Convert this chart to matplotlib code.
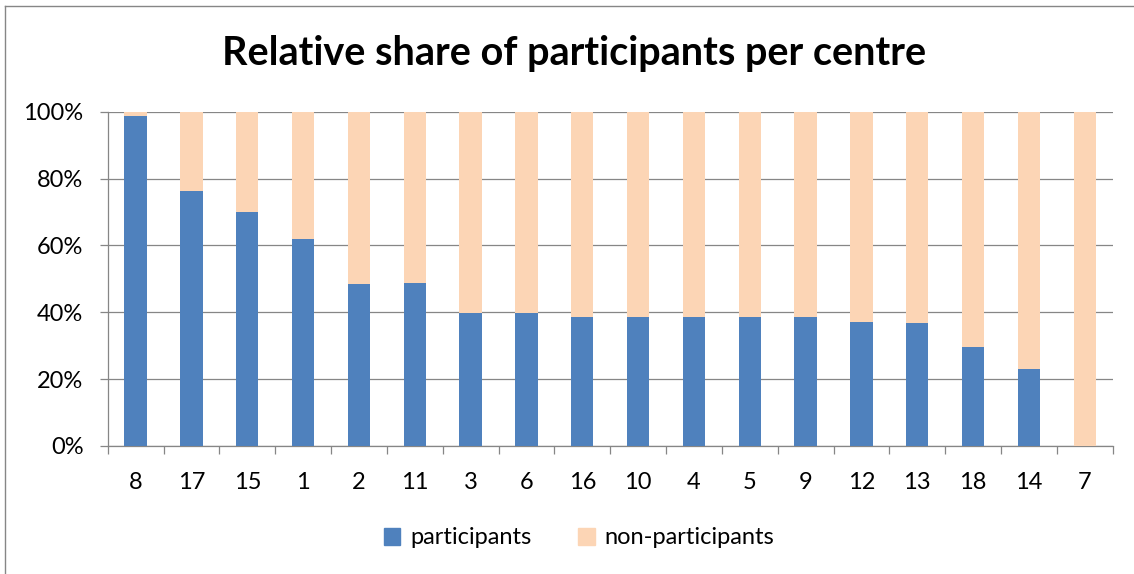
import numpy as np
import matplotlib.pyplot as plt
from matplotlib.patches import Patch
from matplotlib.ticker import PercentFormatter

# centres ordered by participant share
centres = ['8', '17', '15', '1', '2', '11', '3', '6', '16', '10', '4', '5',
           '9', '12', '13', '18', '14', '7']
participants = [98.8, 76.3, 69.9, 62.0, 48.6, 48.8, 39.9, 39.9, 38.5, 38.6,
                38.6, 38.6, 38.6, 37.1, 36.7, 29.6, 23.0, 0.0]
non_participants = [100 - p for p in participants]

blue = '#4F81BD'
peach = '#FCD5B5'
grey = '#868686'

plt.rcParams['font.family'] = ['Lato', 'DejaVu Sans']

fig = plt.figure(figsize=(11.34, 5.74), dpi=100)
W, H = 1134., 574.
ax = fig.add_axes([107.7/W, 1-446/H, (1112.7-107.7)/W, (446-111.7)/H])

x = np.arange(len(centres))
ax.bar(x, participants, width=0.4, color=blue, zorder=3)
ax.bar(x, non_participants, width=0.4, bottom=participants, color=peach, zorder=3)

ax.set_xlim(-0.5, len(centres) - 0.5)
ax.set_ylim(0, 100)
ax.set_yticks(np.arange(0, 101, 20))
ax.yaxis.set_major_formatter(PercentFormatter(decimals=0))
ax.set_xticks(x)
ax.set_xticklabels(centres)
ax.set_xticks(np.arange(-0.5, len(centres)), minor=True)
ax.tick_params(axis='x', which='major', length=0, pad=19, labelsize=17)
ax.tick_params(axis='x', which='minor', length=5.5, width=0.9, color=grey, direction='out')
ax.tick_params(axis='y', length=5.5, width=0.9, color=grey, labelsize=17, pad=12)

ax.grid(True, axis='y', color=grey, linewidth=0.9, zorder=0)
for s in ['top', 'right']:
    ax.spines[s].set_visible(False)
for s in ['left', 'bottom']:
    ax.spines[s].set_color(grey)
    ax.spines[s].set_linewidth(0.9)

fig.text(574/W, 1-54/H, 'Relative share of participants per centre',
         ha='center', va='center', fontsize=28.5, fontweight='bold')

handles = [Patch(color=blue, label='participants'),
           Patch(color=peach, label='non-participants')]
fig.legend(handles=handles, loc='center', bbox_to_anchor=(579/W, 1-538/H),
           ncol=2, frameon=False, fontsize=17, handlelength=0.7,
           handleheight=0.7, handletextpad=0.4, columnspacing=2.0)

# chart frame (only left and top edges visible)
fig.add_artist(plt.Line2D([5/W, 5/W], [0, 1-6/H], color=grey, lw=1.0))
fig.add_artist(plt.Line2D([5/W, 1], [1-6/H, 1-6/H], color=grey, lw=1.0))

fig.savefig('out.png', dpi=100)
